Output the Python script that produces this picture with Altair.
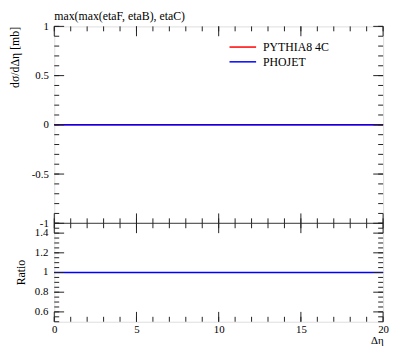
import altair as alt
import pandas as pd

# ---- data ----
x_edges = [0, 20]
pythia_vals = [0, 0]
phojet_vals = [0, 0]
ratio_vals = [1, 1]
series_names = ["PYTHIA8 4C", "PHOJET"]
series_colors = ["#ff0000", "#0000ff"]

main_y_major = [-1, -0.5, 0, 0.5, 1]
main_y_minor = [round(-1 + 0.1 * i, 2) for i in range(21)]
ratio_y_major = [0.6, 0.8, 1.0, 1.2, 1.4]
ratio_y_minor = [round(0.5 + 0.05 * i, 2) for i in range(21)]
x_major = [0, 5, 10, 15, 20]
x_minor = list(range(0, 21))

W, H1, H2 = 334, 200, 100
H = H1 + H2
FONT = "Liberation Serif"
TC = "#222"

xscale = alt.Scale(domain=[0, 20], nice=False, zero=False)
y1scale = alt.Scale(domain=[-1, 1], nice=False, zero=False, range=[H1, 0])
y2scale = alt.Scale(domain=[0.5, 1.5], nice=False, zero=False, range=[H, H1])

common = dict(ticks=False, domain=False, grid=False, titleFont=FONT,
              titleFontWeight="normal", titleColor="black", labelColor="black",
              labelFont=FONT, labelFontSize=11, labelOverlap=False,
              labelFlush=False, labelExpr="'' + datum.value")

y1axis = alt.Axis(values=main_y_major, title="dσ/dΔη [mb]", titleAnchor="end",
                  titleFontSize=12, titlePadding=10, labelPadding=6, **common)
xaxis = alt.Axis(values=x_major, title="Δη", titleAnchor="end", titleFontSize=11,
                 titlePadding=0, labelPadding=2, **common)

layers = []

# main panel lines (PYTHIA first, PHOJET drawn over it)
for name, vals, col in [(series_names[0], pythia_vals, series_colors[0]),
                        (series_names[1], phojet_vals, series_colors[1])]:
    df = pd.DataFrame({"x": x_edges, "y": vals})
    first = len(layers) == 0
    layers.append(alt.Chart(df).mark_line(strokeWidth=1.5, color=col).encode(
        x=alt.X("x:Q", scale=xscale, axis=xaxis),
        y=alt.Y("y:Q", scale=y1scale, axis=y1axis if first else None),
    ))

# ratio line
layers.append(alt.Chart(pd.DataFrame({"x": x_edges, "y": ratio_vals}))
              .mark_line(strokeWidth=1.5, color="#0000ff").encode(
    x=alt.X("x:Q", scale=xscale, axis=xaxis),
    y=alt.Y("y:Q", scale=y2scale, axis=None),
))

# divider between panels (at y = -1 of the main panel)
layers.append(alt.Chart(pd.DataFrame({"y": [-1]})).mark_rule(color="#333", strokeWidth=1).encode(
    y=alt.Y("y:Q", scale=y1scale, axis=None), x=alt.value(0), x2=alt.value(W)))


def yticks(vals, scale, length):
    d = pd.DataFrame({"y": vals})
    return [
        alt.Chart(d).mark_rule(color=TC, strokeWidth=1).encode(
            y=alt.Y("y:Q", scale=scale, axis=None), x=alt.value(0), x2=alt.value(length)),
        alt.Chart(d).mark_rule(color=TC, strokeWidth=1).encode(
            y=alt.Y("y:Q", scale=scale, axis=None), x=alt.value(W - length), x2=alt.value(W)),
    ]


def xticks(vals, length, y0, y1):
    d = pd.DataFrame({"x": vals})
    return [
        alt.Chart(d).mark_rule(color=TC, strokeWidth=1).encode(
            x=alt.X("x:Q", scale=xscale, axis=xaxis), y=alt.value(y0), y2=alt.value(y0 + length)),
        alt.Chart(d).mark_rule(color=TC, strokeWidth=1).encode(
            x=alt.X("x:Q", scale=xscale, axis=xaxis), y=alt.value(y1 - length), y2=alt.value(y1)),
    ]


layers += yticks(main_y_major, y1scale, 10)
layers += yticks(main_y_minor, y1scale, 5)
layers += yticks(ratio_y_major, y2scale, 10)
layers += yticks(ratio_y_minor, y2scale, 5)
layers += xticks(x_major, 10, 0, H1)
layers += xticks(x_minor, 5, 0, H1)
layers += xticks(x_major, 10, H1, H)
layers += xticks(x_minor, 5, H1, H)

# ratio axis labels and title
layers.append(alt.Chart(pd.DataFrame({"y": ratio_y_major}))
              .transform_calculate(lab="'' + datum.y")
              .mark_text(font=FONT, fontSize=11, align="right", baseline="middle", color="black")
              .encode(y=alt.Y("y:Q", scale=y2scale, axis=None), x=alt.value(-6), text="lab:N"))
layers.append(alt.Chart(pd.DataFrame({"t": ["Ratio"]}))
              .mark_text(font=FONT, fontSize=12, angle=270, align="center", baseline="middle",
                         color="black")
              .encode(text="t:N", x=alt.value(-34), y=alt.value((H1 + H) / 2)))

# legend
for i, (name, col) in enumerate(zip(series_names, series_colors)):
    yy = 21 + 15 * i
    layers.append(alt.Chart(pd.DataFrame({"n": [name]})).mark_rule(color=col, strokeWidth=1.5)
                  .encode(x=alt.value(178), x2=alt.value(205), y=alt.value(yy)))
    layers.append(alt.Chart(pd.DataFrame({"n": [name]}))
                  .mark_text(font=FONT, fontSize=12, align="left", baseline="middle", color="black")
                  .encode(text="n:N", x=alt.value(212), y=alt.value(yy)))

chart = alt.layer(*layers).resolve_scale(y="independent").properties(
    width=W, height=H,
    title=alt.TitleParams("max(max(etaF, etaB), etaC)", anchor="start", font=FONT,
                          fontSize=12, fontWeight="normal", offset=-3, color="black",
                          frame="group"),
    padding={"left": 0, "top": 0, "right": 0, "bottom": 0},
).configure_view(stroke="#333", strokeWidth=1).configure(background="white")

chart.save("out.html", embed_options={"renderer": "svg", "actions": False})
